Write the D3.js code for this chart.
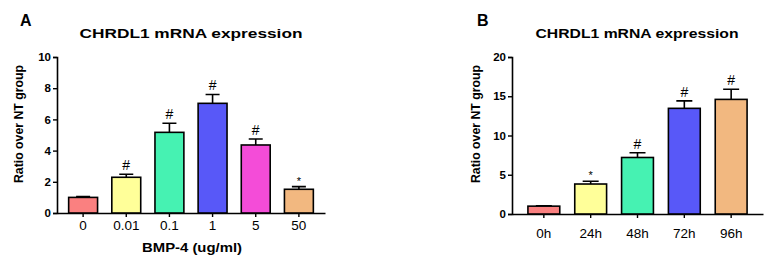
<!DOCTYPE html>
<html>
<head>
<meta charset="utf-8">
<script src="https://cdn.jsdelivr.net/npm/d3@7"></script>
<style>
  body { margin: 0; background: #fff; }
  svg { display: block; font-family: "Liberation Sans", Arial, sans-serif; }
</style>
</head>
<body>
<svg id="chart" width="765" height="259"></svg>
<script>
// panel A: dose response
const doseLabels = ["0", "0.01", "0.1", "1", "5", "50"];
const doseMeans = [1.0, 2.29, 5.17, 7.03, 4.36, 1.52];
const doseErrors = [0.05, 0.19, 0.58, 0.57, 0.38, 0.17];
const doseMarks = ["", "#", "#", "#", "#", "*"];
const doseTicks = [0, 2, 4, 6, 8, 10];
const doseColors = ["#fa8080", "#ffff99", "#46f2b2", "#5858f8", "#f44cd8", "#f2b880"];

// panel B: time course
const timeLabels = ["0h", "24h", "48h", "72h", "96h"];
const timeMeans = [1.0, 3.82, 7.2, 13.46, 14.6];
const timeErrors = [0.05, 0.35, 0.6, 0.95, 1.3];
const timeMarks = ["", "*", "#", "#", "#"];
const timeTicks = [0, 5, 10, 15, 20];
const timeColors = ["#fa8080", "#ffff99", "#46f2b2", "#5858f8", "#f2b880"];

const svg = d3.select("#chart");

function drawPanel(opt) {
  const g = svg.append("g");
  const y = d3.scaleLinear().domain([0, opt.ymax]).range([opt.y0, 57]);
  const x = d3.scaleBand()
    .domain(opt.labels)
    .range([opt.x0, opt.x1])
    .paddingInner(opt.pin)
    .paddingOuter(opt.pout);

  // y axis
  const yAxis = g.append("g")
    .attr("transform", `translate(${opt.x0},0)`)
    .call(d3.axisLeft(y).tickValues(opt.ticks).tickSize(4).tickPadding(2));
  yAxis.select(".domain").attr("stroke-width", 1.6);
  yAxis.selectAll(".tick line").attr("stroke-width", 1.4);
  yAxis.selectAll(".tick text")
    .attr("font-size", 11.5).attr("font-weight", "bold").attr("fill", "#000");

  // x axis
  const xAxis = g.append("g")
    .attr("transform", `translate(0,${opt.y0})`)
    .call(d3.axisBottom(x).tickSize(4).tickSizeOuter(0).tickFormat(""));
  xAxis.select(".domain").attr("stroke-width", 1.6);
  xAxis.selectAll(".tick line").attr("stroke-width", 1.4);

  g.selectAll(".xlab")
    .data(opt.labels)
    .enter().append("text")
    .attr("x", d => x(d) + x.bandwidth() / 2)
    .attr("y", opt.labelY)
    .attr("text-anchor", "middle")
    .attr("font-size", 13.5)
    .text(d => d);

  const rows = opt.labels.map((d, i) => ({ label: d, mean: opt.means[i], err: opt.errors[i], mark: opt.marks[i], color: opt.colors[i] }));

  // error bars (upper only)
  const cap = opt.cap;
  g.selectAll(".err")
    .data(rows)
    .enter().append("path")
    .attr("d", d => {
      const cx = x(d.label) + x.bandwidth() / 2;
      return `M${cx},${y(d.mean)}V${y(d.mean + d.err)}M${cx - cap / 2},${y(d.mean + d.err)}H${cx + cap / 2}`;
    })
    .attr("stroke", "#000")
    .attr("stroke-width", 1.6)
    .attr("fill", "none");

  g.selectAll(".bar")
    .data(rows)
    .enter().append("rect")
    .attr("x", d => x(d.label))
    .attr("y", d => y(d.mean))
    .attr("width", x.bandwidth())
    .attr("height", d => opt.y0 - y(d.mean))
    .attr("fill", d => d.color)
    .attr("stroke", "#000")
    .attr("stroke-width", 1.6);

  // significance marks
  g.selectAll(".mark")
    .data(rows.filter(d => d.mark))
    .enter().append("text")
    .attr("x", d => x(d.label) + x.bandwidth() / 2)
    .attr("y", d => y(d.mean + d.err) - (d.mark === "*" ? 2 : 4))
    .attr("text-anchor", "middle")
    .attr("font-size", d => d.mark === "*" ? 11 : 14)
    .text(d => d.mark);

  // titles
  g.append("text")
    .attr("x", opt.titleX).attr("y", 38)
    .attr("text-anchor", "middle")
    .attr("font-size", 13.5).attr("font-weight", "bold")
    .attr("textLength", opt.titleW).attr("lengthAdjust", "spacingAndGlyphs")
    .text("CHRDL1 mRNA expression");

  g.append("text")
    .attr("x", opt.letterX).attr("y", 26)
    .attr("font-size", 16).attr("font-weight", "bold")
    .text(opt.letter);

  g.append("text")
    .attr("transform", `translate(${opt.ylabX},124) rotate(-90)`)
    .attr("text-anchor", "middle")
    .attr("font-size", 12.5).attr("font-weight", "bold")
    .attr("textLength", 118).attr("lengthAdjust", "spacingAndGlyphs")
    .text("Ratio over NT group");

  if (opt.xTitle) {
    g.append("text")
      .attr("x", opt.xTitleX).attr("y", 252)
      .attr("text-anchor", "middle")
      .attr("font-size", 13).attr("font-weight", "bold")
      .attr("textLength", 100).attr("lengthAdjust", "spacingAndGlyphs")
      .text(opt.xTitle);
  }
}

drawPanel({
  labels: doseLabels, means: doseMeans, errors: doseErrors, marks: doseMarks, ticks: doseTicks,
  colors: doseColors,
  ymax: 10, y0: 213, x0: 57, x1: 325, pin: 0.33, pout: 0.27, cap: 14,
  labelY: 230, titleX: 191, titleW: 223, letter: "A", letterX: 20, ylabX: 23,
  xTitle: "BMP-4 (ug/ml)", xTitleX: 192
});

drawPanel({
  labels: timeLabels, means: timeMeans, errors: timeErrors, marks: timeMarks, ticks: timeTicks,
  colors: timeColors,
  ymax: 20, y0: 214, x0: 512, x1: 763, pin: 0.32, pout: 0.34, cap: 16,
  labelY: 238, titleX: 637, titleW: 203, letter: "B", letterX: 477, ylabX: 480
});
</script>
</body>
</html>
